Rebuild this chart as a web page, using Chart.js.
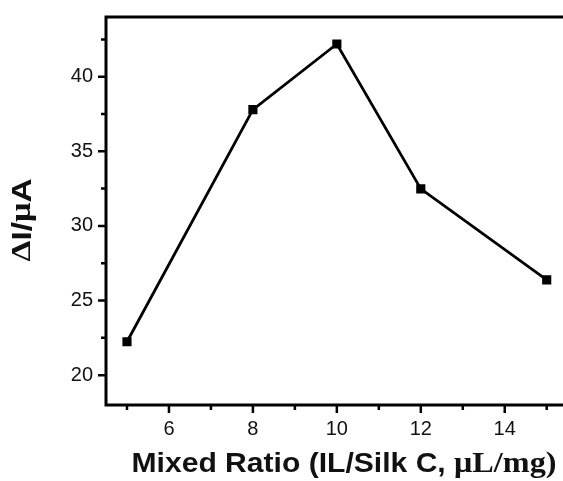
<!DOCTYPE html>
<html>
<head>
<meta charset="utf-8">
<script src="https://cdn.jsdelivr.net/npm/chart.js@4/dist/chart.umd.min.js"></script>
<style>
  html, body { margin: 0; padding: 0; background: #fff; overflow: hidden; }
  #wrap { width: 575px; height: 481px; }
</style>
</head>
<body>
<div id="wrap"><canvas id="chart" width="575" height="481"></canvas></div>
<script>
// data
const ratios = [5, 8, 10, 12, 15];
const deltaI = [22.24, 37.79, 42.19, 32.48, 26.39];
const xMajorTicks = [6, 8, 10, 12, 14];
const xMinorTicks = [5, 7, 9, 11, 13, 15];
const yMajorTicks = [20, 25, 30, 35, 40];
const yMinorTicks = [22.5, 27.5, 32.5, 37.5, 42.5];

const SANS = 'Arial, "Liberation Sans", sans-serif';
const SERIF = '"Times New Roman", "Liberation Serif", serif';

// draws text made of pieces in different fonts, squeezed to a given width
function drawPieces(ctx, pieces, cx, cy, width) {
    let total = 0;
    pieces.forEach(p => { ctx.font = p[1]; total += ctx.measureText(p[0]).width; });
    const k = width / total;
    ctx.save();
    ctx.translate(cx - width / 2, cy);
    ctx.scale(k, 1);
    ctx.textAlign = 'left';
    ctx.textBaseline = 'middle';
    let x = 0;
    pieces.forEach(p => {
        ctx.font = p[1];
        ctx.fillText(p[0], x, 0);
        x += ctx.measureText(p[0]).width;
    });
    ctx.restore();
}

// frame + tick marks + axis titles
const framePlugin = {
    id: 'frame',
    afterDraw(chart) {
        const ctx = chart.ctx;
        const a = chart.chartArea;
        const xs = chart.scales.x;
        const ys = chart.scales.y;
        ctx.save();
        ctx.strokeStyle = '#000';
        ctx.lineWidth = 3;
        ctx.beginPath();
        ctx.moveTo(a.right + 10, a.top);
        ctx.lineTo(a.left, a.top);
        ctx.lineTo(a.left, a.bottom);
        ctx.lineTo(a.right + 10, a.bottom);
        ctx.stroke();

        ctx.lineWidth = 2.5;
        ctx.beginPath();
        xMajorTicks.forEach(v => {
            const p = xs.getPixelForValue(v);
            ctx.moveTo(p, a.bottom); ctx.lineTo(p, a.bottom + 8);
        });
        xMinorTicks.forEach(v => {
            const p = xs.getPixelForValue(v);
            ctx.moveTo(p, a.bottom); ctx.lineTo(p, a.bottom + 5);
        });
        yMajorTicks.forEach(v => {
            const p = ys.getPixelForValue(v);
            ctx.moveTo(a.left, p); ctx.lineTo(a.left - 8, p);
        });
        yMinorTicks.forEach(v => {
            const p = ys.getPixelForValue(v);
            ctx.moveTo(a.left, p); ctx.lineTo(a.left - 5, p);
        });
        ctx.stroke();

        ctx.fillStyle = '#111';
        drawPieces(ctx, [
            ['Mixed Ratio (IL/Silk C, ', 'bold 28px ' + SANS],
            ['\u03bcL/mg)', 'bold 30px ' + SERIF]
        ], 344, 464, 425);

        ctx.translate(23, 220);
        ctx.rotate(-Math.PI / 2);
        drawPieces(ctx, [
            ['\u0394', 'bold 28px ' + SERIF],
            ['I/', 'bold 28px ' + SANS],
            ['\u03bc', 'bold 29px ' + SERIF],
            ['A', 'bold 28px ' + SANS]
        ], 0, 0, 83);
        ctx.restore();
    }
};

const ctx = document.getElementById('chart').getContext('2d');
new Chart(ctx, {
    type: 'line',
    data: {
        datasets: [{
            data: ratios.map((r, i) => ({ x: r, y: deltaI[i] })),
            borderColor: '#000',
            backgroundColor: '#000',
            borderWidth: 2.8,
            pointStyle: 'rect',
            pointRadius: 4.5,
            tension: 0
        }]
    },
    options: {
        responsive: false,
        animation: false,
        layout: { padding: { top: 17, right: 6, left: 0, bottom: 0 } },
        plugins: { legend: { display: false }, tooltip: { enabled: false } },
        scales: {
            x: {
                type: 'linear',
                min: 4.5,
                max: 15.5,
                afterBuildTicks(scale) { scale.ticks = xMajorTicks.map(v => ({ value: v })); },
                afterFit(scale) {
                    scale.height = 76;
                    scale.paddingLeft = 0;
                    scale.paddingRight = 0;
                },
                grid: { display: false, drawTicks: false },
                border: { display: false },
                ticks: {
                    color: '#111',
                    padding: 12,
                    maxRotation: 0,
                    font: { family: SANS, size: 20 }
                }
            },
            y: {
                min: 18,
                max: 44,
                afterBuildTicks(scale) { scale.ticks = yMajorTicks.map(v => ({ value: v })); },
                afterFit(scale) {
                    scale.width = 106;
                    scale.paddingTop = 0;
                    scale.paddingBottom = 0;
                },
                grid: { display: false, drawTicks: false },
                border: { display: false },
                ticks: {
                    color: '#111',
                    padding: 13,
                    font: { family: SANS, size: 20 }
                }
            }
        }
    },
    plugins: [framePlugin]
});
</script>
</body>
</html>
